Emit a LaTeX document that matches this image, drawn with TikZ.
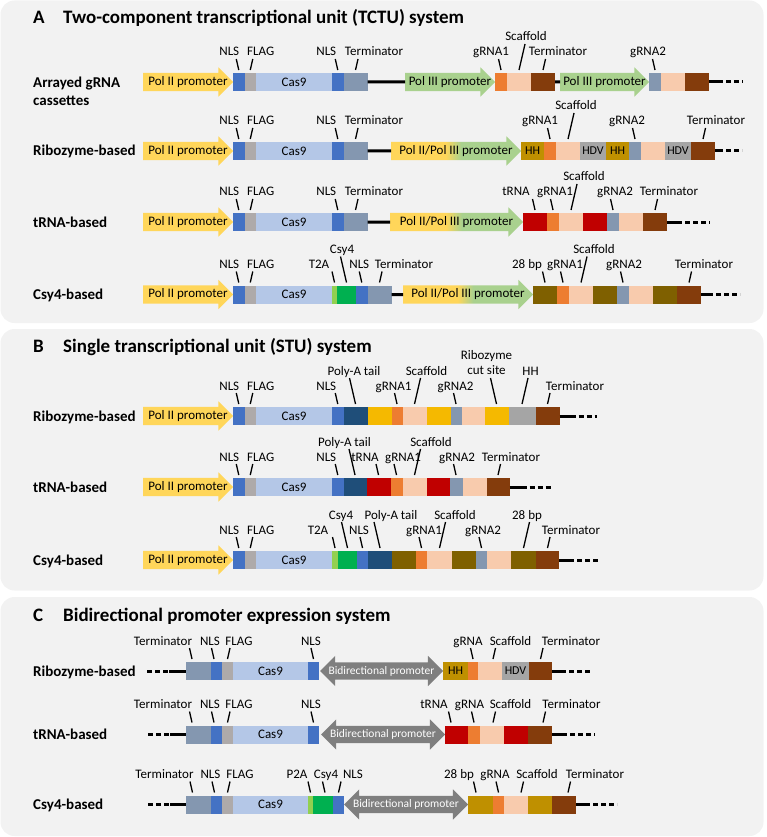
\documentclass[tikz,border=0pt]{standalone}
\usepackage{fontspec}
\setmainfont{Carlito}
\usetikzlibrary{positioning,calc,shapes.arrows}

\definecolor{panelgray}{RGB}{242,242,242}
\definecolor{poltwo}{RGB}{255,214,90}
\definecolor{polthree}{RGB}{169,209,142}
\definecolor{nlsblue}{RGB}{68,114,196}
\definecolor{flaggray}{RGB}{174,170,170}
\definecolor{casblue}{RGB}{180,199,231}
\definecolor{slate}{RGB}{132,151,176}
\definecolor{grnaorange}{RGB}{237,125,49}
\definecolor{peach}{RGB}{248,203,173}
\definecolor{rustbrown}{RGB}{132,60,12}
\definecolor{hhgold}{RGB}{191,144,0}
\definecolor{hdvgray}{RGB}{165,165,165}
\definecolor{trnared}{RGB}{192,0,0}
\definecolor{csygreen}{RGB}{0,176,80}
\definecolor{tagreen}{RGB}{146,208,80}
\definecolor{siteolive}{RGB}{127,96,0}
\definecolor{polyanavy}{RGB}{31,78,121}
\definecolor{cutamber}{RGB}{245,185,0}
\definecolor{bidigray}{RGB}{127,127,127}

\pgfdeclarehorizontalshading{polmix}{100bp}{color(0bp)=(poltwo); color(25bp)=(poltwo); color(46bp)=(poltwo); color(52bp)=(polthree); color(75bp)=(polthree); color(100bp)=(polthree)}

\newcommand{\lblfont}{\fontsize{13}{15}\selectfont}
\newcommand{\blockfont}{\fontsize{12}{14}\selectfont}
\newcommand{\bidifont}{\fontsize{11.5}{13}\selectfont}
\newcommand{\rowfont}{\fontsize{15}{18}\selectfont\bfseries}
\newcommand{\titlefont}{\fontsize{19}{22}\selectfont\bfseries}

\tikzset{
  panel/.style={fill=panelgray, rounded corners=14pt},
  ttl/.style={anchor=base west, inner sep=0pt, font=\titlefont},
  rowlbl/.style={anchor=base west, inner sep=0pt, font=\rowfont},
  lbl/.style={anchor=base, inner sep=0pt, align=center, font=\lblfont},
  pinline/.style={line width=1.3pt},
  dna/.style={line width=3pt},
  dnadash/.style={dna, dash pattern=on 5pt off 3pt},
  dnatail/.style={dna, dash pattern=on 5pt off 3pt, dash phase=5pt},
  seg/.style={anchor=west, minimum width=#1pt, minimum height=18pt,
    inner sep=0pt, outer sep=0pt, font=\lblfont},
  nlsbox/.style={seg=#1, fill=nlsblue}, nlsbox/.default=11.5,
  flagbox/.style={seg=#1, fill=flaggray}, flagbox/.default=11.5,
  casbox/.style={seg=#1, fill=casblue}, casbox/.default=76,
  ctermbox/.style={seg=#1, fill=slate}, ctermbox/.default=24,
  grnabox/.style={seg=#1, fill=grnaorange}, grnabox/.default=12,
  grnbbox/.style={seg=#1, fill=slate}, grnbbox/.default=12,
  scafbox/.style={seg=#1, fill=peach}, scafbox/.default=24,
  gtermbox/.style={seg=#1, fill=rustbrown}, gtermbox/.default=24,
  hhbox/.style={seg=#1, fill=hhgold, font=\blockfont}, hhbox/.default=24,
  hdvbox/.style={seg=#1, fill=hdvgray, font=\blockfont}, hdvbox/.default=26,
  trnabox/.style={seg=#1, fill=trnared}, trnabox/.default=24,
  csybox/.style={seg=#1, fill=csygreen}, csybox/.default=19,
  tabox/.style={seg=#1, fill=tagreen}, tabox/.default=5,
  sitebox/.style={seg=#1, fill=siteolive}, sitebox/.default=24,
  polyabox/.style={seg=#1, fill=polyanavy}, polyabox/.default=24,
  cutbox/.style={seg=#1, fill=cutamber}, cutbox/.default=24,
  promoter/.style={single arrow, single arrow head extend=5.5pt, anchor=west,
    minimum height=#1pt, inner xsep=0pt, inner ysep=3pt,
    text height=9pt, text depth=3pt, outer sep=0pt},
  pol two/.style={promoter=#1, fill=poltwo},
  pol three/.style={promoter=#1, fill=polthree},
  pol mix/.style={promoter=#1, shade, shading=polmix},
  bidi/.style={double arrow, double arrow head extend=6.5pt, anchor=west,
    minimum height=#1pt, inner xsep=0pt, inner ysep=3pt,
    text height=8.5pt, text depth=2.5pt, outer sep=0pt, fill=bidigray},
  ptext/.style={inner sep=0pt, font=\lblfont},
  btext/.style={inner sep=0pt, text=white, font=\bidifont},
}

% label with its slanted pin: [options]{foot}{slant}{length}{text}{text shift}
\newcounter{pinno}
\newcommand{\pin}[6][]{%
  \stepcounter{pinno}%
  \path (#2) ++(0pt,3pt) coordinate (f\thepinno) ++(#3pt,#4pt) coordinate (h\thepinno);
  \draw[pinline] (f\thepinno) -- (h\thepinno);
  \node[lbl, #1] (l\thepinno) at ([yshift=3pt, xshift=#6pt]h\thepinno) {#5};}

\begin{document}
\begin{tikzpicture}[x=1pt, y=-1pt, node distance=0pt]
  \useasboundingbox (0,0) rectangle (767,837);
  \fill[panel] (0.5,0.5) rectangle (763.5,323);
  \fill[panel] (0.5,329) rectangle (763.5,590.5);
  \fill[panel] (0.5,597) rectangle (763.5,836);

  % ---------------- A ----------------
  \node[ttl] (ta) at (33,24) {A};
  \node[ttl] (tta) at (63,24) {Two-component transcriptional unit (TCTU) system};

  % arrayed gRNA cassettes
  \node[rowlbl, anchor=west, align=left] (a1l) at (33,91) {Arrayed gRNA\\cassettes};
  \node[pol two=90] (a1p) at (143,82) {};
  \node[ptext] (a1pt) at ($(a1p.west)!0.5!(a1p.east)$) {Pol II promoter};
  \node[nlsbox, right=of a1p] (a1n1) {};
  \node[flagbox, right=of a1n1] (a1f) {};
  \node[casbox, right=of a1f] (a1c) {Cas9};
  \node[nlsbox, right=of a1c] (a1n2) {};
  \node[ctermbox, right=of a1n2] (a1t) {};
  \node[pol three=90] (a1q) at (405,82) {};
  \node[ptext] (a1qt) at ($(a1q.west)!0.5!(a1q.east)$) {Pol III promoter};
  \node[grnabox, right=of a1q] (a1g1) {};
  \node[scafbox, right=of a1g1] (a1s1) {};
  \node[gtermbox, right=of a1s1] (a1t1) {};
  \node[pol three=89] (a1r) at (560,82) {};
  \node[ptext] (a1rt) at ($(a1r.west)!0.5!(a1r.east)$) {Pol III promoter};
  \node[grnbbox, right=of a1r] (a1g2) {};
  \node[scafbox, right=of a1g2] (a1s2) {};
  \node[gtermbox, right=of a1s2] (a1t2) {};
  \draw[dna] (a1t) -- (a1q);
  \draw[dna] (a1t1) -- (a1r);
  \draw[dna] (a1t2.east) -- ++(14,0) coordinate (a1e);
  \draw[dnatail] (a1e) -- ++(20,0);
  \pin{a1n1.north}{-2.5}{11}{NLS}{-7}
  \pin{a1f.north}{2.5}{11}{FLAG}{8}
  \pin{a1n2.north}{-2.5}{11}{NLS}{-9}
  \pin{a1t.north}{2.5}{11}{Terminator}{16}
  \pin{a1g1.north}{-2.5}{11}{gRNA1}{-7.5}
  \pin{a1s1.north}{6}{26}{Scaffold}{1}
  \pin{a1t1.north}{2.5}{11}{Terminator}{12.5}
  \pin{a1g2.north}{-2.5}{11}{gRNA2}{-4.5}

  % ribozyme-based
  \node[rowlbl] (a2l) at (33,156) {Ribozyme-based};
  \node[pol two=90] (a2p) at (143,151) {};
  \node[ptext] (a2pt) at ($(a2p.west)!0.5!(a2p.east)$) {Pol II promoter};
  \node[nlsbox, right=of a2p] (a2n1) {};
  \node[flagbox, right=of a2n1] (a2f) {};
  \node[casbox, right=of a2f] (a2c) {Cas9};
  \node[nlsbox, right=of a2c] (a2n2) {};
  \node[ctermbox, right=of a2n2] (a2t) {};
  \node[pol mix=130] (a2q) at (391,151) {};
  \node[ptext] (a2qt) at ($(a2q.west)!0.5!(a2q.east)$) {Pol II/Pol III promoter};
  \node[hhbox=23, right=of a2q] (a2h1) {HH};
  \node[grnabox, right=of a2h1] (a2g1) {};
  \node[scafbox, right=of a2g1] (a2s1) {};
  \node[hdvbox, right=of a2s1] (a2d1) {HDV};
  \node[hhbox=23, right=of a2d1] (a2h2) {HH};
  \node[grnbbox, right=of a2h2] (a2g2) {};
  \node[scafbox, right=of a2g2] (a2s2) {};
  \node[hdvbox, right=of a2s2] (a2d2) {HDV};
  \node[gtermbox, right=of a2d2] (a2t1) {};
  \draw[dna] (a2t) -- (a2q);
  \draw[dna] (a2t1.east) -- ++(8,0) coordinate (a2e);
  \draw[dnatail] (a2e) -- ++(19,0);
  \pin{a2n1.north}{-2.5}{11}{NLS}{-7}
  \pin{a2f.north}{2.5}{11}{FLAG}{8}
  \pin{a2n2.north}{-2.5}{11}{NLS}{-9}
  \pin{a2t.north}{2.5}{11}{Terminator}{16}
  \pin{a2g1.north}{-2.5}{11}{gRNA1}{-7.5}
  \pin{a2s1.north}{6}{26}{Scaffold}{2}
  \pin{a2g2.north}{-2.5}{11}{gRNA2}{-5.5}
  \pin{a2t1.north}{2.5}{11}{Terminator}{10.5}

  % tRNA-based
  \node[rowlbl] (a3l) at (33,227) {tRNA-based};
  \node[pol two=90] (a3p) at (143,222) {};
  \node[ptext] (a3pt) at ($(a3p.west)!0.5!(a3p.east)$) {Pol II promoter};
  \node[nlsbox, right=of a3p] (a3n1) {};
  \node[flagbox, right=of a3n1] (a3f) {};
  \node[casbox, right=of a3f] (a3c) {Cas9};
  \node[nlsbox, right=of a3c] (a3n2) {};
  \node[ctermbox, right=of a3n2] (a3t) {};
  \node[pol mix=133] (a3q) at (390,222) {};
  \node[ptext] (a3qt) at ($(a3q.west)!0.5!(a3q.east)$) {Pol II/Pol III promoter};
  \node[trnabox, right=of a3q] (a3r1) {};
  \node[grnabox, right=of a3r1] (a3g1) {};
  \node[scafbox, right=of a3g1] (a3s1) {};
  \node[trnabox, right=of a3s1] (a3r2) {};
  \node[grnbbox, right=of a3r2] (a3g2) {};
  \node[scafbox, right=of a3g2] (a3s2) {};
  \node[gtermbox, right=of a3s2] (a3t1) {};
  \draw[dna] (a3t) -- (a3q);
  \draw[dna] (a3t1.east) -- ++(15,0) coordinate (a3e);
  \draw[dnatail] (a3e) -- ++(28,0);
  \pin{a3n1.north}{-2.5}{11}{NLS}{-7}
  \pin{a3f.north}{2.5}{11}{FLAG}{8}
  \pin{a3n2.north}{-2.5}{11}{NLS}{-9}
  \pin{a3t.north}{2.5}{11}{Terminator}{16}
  \pin{a3r1.north}{-2.5}{11}{tRNA}{-16.5}
  \pin{a3g1.north}{-2.5}{11}{gRNA1}{4.5}
  \pin{a3s1.north}{6}{26}{Scaffold}{7}
  \pin{a3g2.north}{-2.5}{11}{gRNA2}{4.5}
  \pin{a3t1.north}{2.5}{11}{Terminator}{11.5}

  % Csy4-based
  \node[rowlbl] (a4l) at (33,299.5) {Csy4-based};
  \node[pol two=90] (a4p) at (143,294.5) {};
  \node[ptext] (a4pt) at ($(a4p.west)!0.5!(a4p.east)$) {Pol II promoter};
  \node[nlsbox, right=of a4p] (a4n1) {};
  \node[flagbox, right=of a4n1] (a4f) {};
  \node[casbox, right=of a4f] (a4c) {Cas9};
  \node[tabox, right=of a4c] (a4x) {};
  \node[csybox, right=of a4x] (a4y) {};
  \node[nlsbox, right=of a4y] (a4n2) {};
  \node[ctermbox, right=of a4n2] (a4t) {};
  \node[pol mix=130] (a4q) at (403,294.5) {};
  \node[ptext] (a4qt) at ($(a4q.west)!0.5!(a4q.east)$) {Pol II/Pol III promoter};
  \node[sitebox, right=of a4q] (a4b1) {};
  \node[grnabox, right=of a4b1] (a4g1) {};
  \node[scafbox, right=of a4g1] (a4s1) {};
  \node[sitebox, right=of a4s1] (a4b2) {};
  \node[grnbbox, right=of a4b2] (a4g2) {};
  \node[scafbox, right=of a4g2] (a4s2) {};
  \node[sitebox, right=of a4s2] (a4b3) {};
  \node[gtermbox, right=of a4b3] (a4t1) {};
  \draw[dna] (a4t) -- (a4q);
  \draw[dna] (a4t1.east) -- ++(12,0) coordinate (a4e);
  \draw[dnatail] (a4e) -- ++(27,0);
  \pin{a4n1.north}{-2.5}{11}{NLS}{-7}
  \pin{a4f.north}{2.5}{11}{FLAG}{8}
  \pin{a4x.north}{-2.5}{11}{T2A}{-13}
  \pin{a4y.north}{-6}{26}{Csy4}{1.5}
  \pin{a4n2.north}{-2.5}{11}{NLS}{0}
  \pin{a4t.north}{2.5}{11}{Terminator}{22}
  \pin{a4b1.north}{-2.5}{11}{28 bp}{-15.5}
  \pin{a4g1.north}{-2.5}{11}{gRNA1}{4.5}
  \pin{a4s1.north}{6}{26}{Scaffold}{7}
  \pin{a4g2.north}{-2.5}{11}{gRNA2}{3.5}
  \pin{a4t1.north}{2.5}{11}{Terminator}{12.5}

  % ---------------- B ----------------
  \node[ttl] (tb) at (33,352) {B};
  \node[ttl] (ttb) at (63,352) {Single transcriptional unit (STU) system};

  % ribozyme-based
  \node[rowlbl] (b1l) at (33,421) {Ribozyme-based};
  \node[pol two=90] (b1p) at (143,416) {};
  \node[ptext] (b1pt) at ($(b1p.west)!0.5!(b1p.east)$) {Pol II promoter};
  \node[nlsbox, right=of b1p] (b1n1) {};
  \node[flagbox, right=of b1n1] (b1f) {};
  \node[casbox, right=of b1f] (b1c) {Cas9};
  \node[nlsbox, right=of b1c] (b1n2) {};
  \node[polyabox, right=of b1n2] (b1a) {};
  \node[cutbox, right=of b1a] (b1k1) {};
  \node[grnabox=11, right=of b1k1] (b1g1) {};
  \node[scafbox, right=of b1g1] (b1s1) {};
  \node[cutbox, right=of b1s1] (b1k2) {};
  \node[grnbbox=11, right=of b1k2] (b1g2) {};
  \node[scafbox=23, right=of b1g2] (b1s2) {};
  \node[cutbox, right=of b1s2] (b1k3) {};
  \node[hdvbox=27, right=of b1k3] (b1h) {};
  \node[gtermbox, right=of b1h] (b1t1) {};
  \draw[dna] (b1t1.east) -- ++(16,0) coordinate (b1e);
  \draw[dnatail] (b1e) -- ++(21,0);
  \pin{b1n1.north}{-2.5}{11}{NLS}{-7}
  \pin{b1f.north}{2.5}{11}{FLAG}{8}
  \pin{b1n2.north}{-2.5}{11}{NLS}{-9}
  \pin{b1a.north}{-6}{26}{Poly-A tail}{4.5}
  \pin{b1g1.north}{-2.5}{11}{gRNA1}{-1}
  \pin{b1s1.north}{6}{26}{Scaffold}{6}
  \pin{b1g2.north}{-2.5}{11}{gRNA2}{2}
  \pin[anchor=south]{b1k3.north}{-6}{26}{Ribozyme\\cut site}{-4}
  \pin{b1h.north}{6}{26}{HH}{2.5}
  \pin{b1t1.north}{2.5}{11}{Terminator}{25}

  % tRNA-based
  \node[rowlbl] (b2l) at (33,492) {tRNA-based};
  \node[pol two=90] (b2p) at (143,487) {};
  \node[ptext] (b2pt) at ($(b2p.west)!0.5!(b2p.east)$) {Pol II promoter};
  \node[nlsbox, right=of b2p] (b2n1) {};
  \node[flagbox, right=of b2n1] (b2f) {};
  \node[casbox, right=of b2f] (b2c) {Cas9};
  \node[nlsbox, right=of b2c] (b2n2) {};
  \node[polyabox=23, right=of b2n2] (b2a) {};
  \node[trnabox, right=of b2a] (b2r1) {};
  \node[grnabox, right=of b2r1] (b2g1) {};
  \node[scafbox, right=of b2g1] (b2s1) {};
  \node[trnabox=23, right=of b2s1] (b2r2) {};
  \node[grnbbox=13, right=of b2r2] (b2g2) {};
  \node[scafbox, right=of b2g2] (b2s2) {};
  \node[gtermbox=23, right=of b2s2] (b2t1) {};
  \draw[dna] (b2t1.east) -- ++(17,0) coordinate (b2e);
  \draw[dnatail] (b2e) -- ++(25,0);
  \pin{b2n1.north}{-2.5}{11}{NLS}{-7}
  \pin{b2f.north}{2.5}{11}{FLAG}{8}
  \pin{b2n2.north}{-2.5}{11}{NLS}{-9}
  \pin{b2a.north}{-6}{26}{Poly-A tail}{-4.5}
  \pin{b2r1.north}{-2.5}{11}{tRNA}{-11}
  \pin{b2g1.north}{-2.5}{11}{gRNA1}{9}
  \pin{b2s1.north}{6}{26}{Scaffold}{10.5}
  \pin{b2g2.north}{-2.5}{11}{gRNA2}{3.5}
  \pin{b2t1.north}{2.5}{11}{Terminator}{10.5}

  % Csy4-based
  \node[rowlbl] (b3l) at (33,565) {Csy4-based};
  \node[pol two=90] (b3p) at (143,560) {};
  \node[ptext] (b3pt) at ($(b3p.west)!0.5!(b3p.east)$) {Pol II promoter};
  \node[nlsbox, right=of b3p] (b3n1) {};
  \node[flagbox, right=of b3n1] (b3f) {};
  \node[casbox, right=of b3f] (b3c) {Cas9};
  \node[tabox=6, right=of b3c] (b3x) {};
  \node[csybox, right=of b3x] (b3y) {};
  \node[nlsbox=11, right=of b3y] (b3n2) {};
  \node[polyabox, right=of b3n2] (b3a) {};
  \node[sitebox, right=of b3a] (b3b1) {};
  \node[grnabox=11, right=of b3b1] (b3g1) {};
  \node[scafbox=25, right=of b3g1] (b3s1) {};
  \node[sitebox, right=of b3s1] (b3b2) {};
  \node[grnbbox=11, right=of b3b2] (b3g2) {};
  \node[scafbox, right=of b3g2] (b3s2) {};
  \node[sitebox=25, right=of b3s2] (b3b3) {};
  \node[gtermbox=23, right=of b3b3] (b3t1) {};
  \draw[dna] (b3t1.east) -- ++(15,0) coordinate (b3e);
  \draw[dnatail] (b3e) -- ++(24,0);
  \pin{b3n1.north}{-2.5}{11}{NLS}{-7}
  \pin{b3f.north}{2.5}{11}{FLAG}{8}
  \pin{b3x.north}{-2.5}{11}{T2A}{-14.5}
  \pin{b3y.north}{-6}{26}{Csy4}{-0.5}
  \pin{b3n2.north}{-2.5}{11}{NLS}{-1}
  \pin{b3a.north}{-6}{26}{Poly-A tail}{17}
  \pin{b3g1.north}{-2.5}{11}{gRNA1}{5}
  \pin{b3s1.north}{6}{26}{Scaffold}{9.5}
  \pin{b3g2.north}{-2.5}{11}{gRNA2}{4}
  \pin{b3b3.north}{6}{26}{28 bp}{-2.5}
  \pin{b3t1.north}{2.5}{11}{Terminator}{21}

  % ---------------- C ----------------
  \node[ttl] (tc) at (33,621) {C};
  \node[ttl] (ttc) at (63,621) {Bidirectional promoter expression system};

  % ribozyme-based
  \node[rowlbl] (c1l) at (33,676) {Ribozyme-based};
  \coordinate (c1o) at (147,671);
  \node[ctermbox=25] (c1t) at (186,671) {};
  \node[nlsbox=11, right=of c1t] (c1n1) {};
  \node[flagbox=11, right=of c1n1] (c1f) {};
  \node[casbox=75, right=of c1f] (c1c) {Cas9};
  \node[nlsbox=11, right=of c1c] (c1n2) {};
  \node[bidi=123] (c1b) at (320,671) {};
  \node[btext] (c1bt) at ($(c1b.west)!0.5!(c1b.east)$) {Bidirectional promoter};
  \node[hhbox=25, right=of c1b] (c1h) {HH};
  \node[grnabox=10, right=of c1h] (c1g) {};
  \node[scafbox, right=of c1g] (c1sc) {};
  \node[hdvbox=27, right=of c1sc] (c1d) {HDV};
  \node[gtermbox=23, right=of c1d] (c1t1) {};
  \draw[dnadash] (c1o) -- ++(22,0) coordinate (c1m);
  \draw[dna] (c1m) -- (c1t);
  \draw[dna] (c1t1.east) -- ++(14,0) coordinate (c1e);
  \draw[dnatail] (c1e) -- ++(25,0);
  \pin{[xshift=-6.5pt]c1t.north}{-2.5}{11}{Terminator}{-26.5}
  \pin{[xshift=-2.5pt]c1n1.north}{-2.5}{11}{NLS}{-1.5}
  \pin{c1f.north}{2.5}{11}{FLAG}{9}
  \pin{c1n2.north}{-2.5}{11}{NLS}{0}
  \pin{c1g.north}{-2.5}{11}{gRNA}{-2.5}
  \pin{[xshift=3pt]c1sc.north}{2.5}{11}{Scaffold}{15}
  \pin{c1t1.north}{2.5}{11}{Terminator}{28}

  % tRNA-based
  \node[rowlbl] (c2l) at (33,739.5) {tRNA-based};
  \coordinate (c2o) at (148,734.5);
  \node[ctermbox=25] (c2t) at (186,734.5) {};
  \node[nlsbox=11, right=of c2t] (c2n1) {};
  \node[flagbox=11, right=of c2n1] (c2f) {};
  \node[casbox=75, right=of c2f] (c2c) {Cas9};
  \node[nlsbox=11, right=of c2c] (c2n2) {};
  \node[bidi=124] (c2b) at (321,734.5) {};
  \node[btext] (c2bt) at ($(c2b.west)!0.5!(c2b.east)$) {Bidirectional promoter};
  \node[trnabox=23, right=of c2b] (c2r1) {};
  \node[grnabox, right=of c2r1] (c2g) {};
  \node[scafbox, right=of c2g] (c2sc) {};
  \node[trnabox, right=of c2sc] (c2r2) {};
  \node[gtermbox, right=of c2r2] (c2t1) {};
  \draw[dnadash] (c2o) -- ++(22,0) coordinate (c2m);
  \draw[dna] (c2m) -- (c2t);
  \draw[dna] (c2t1.east) -- ++(15,0) coordinate (c2e);
  \draw[dnatail] (c2e) -- ++(28,0);
  \pin{[xshift=-6.5pt]c2t.north}{-2.5}{11}{Terminator}{-26.5}
  \pin{[xshift=-2.5pt]c2n1.north}{-2.5}{11}{NLS}{-1.5}
  \pin{c2f.north}{2.5}{11}{FLAG}{9}
  \pin{c2n2.north}{-2.5}{11}{NLS}{0}
  \pin{[xshift=-5.5pt]c2r1.north}{-2.5}{11}{tRNA}{-14.5}
  \pin{c2g.north}{-2.5}{11}{gRNA}{-2}
  \pin{[xshift=1pt]c2sc.north}{2.5}{11}{Scaffold}{15}
  \pin{[xshift=3pt]c2t1.north}{2.5}{11}{Terminator}{26}

  % Csy4-based
  \node[rowlbl] (c3l) at (33,809.5) {Csy4-based};
  \coordinate (c3o) at (148,804.5);
  \node[ctermbox=25] (c3t) at (186,804.5) {};
  \node[nlsbox=11, right=of c3t] (c3n1) {};
  \node[flagbox=11, right=of c3n1] (c3f) {};
  \node[casbox=75, right=of c3f] (c3c) {Cas9};
  \node[tabox, right=of c3c] (c3x) {};
  \node[csybox=20, right=of c3x] (c3y) {};
  \node[nlsbox=11, right=of c3y] (c3n2) {};
  \node[bidi=124] (c3b) at (344,804.5) {};
  \node[btext] (c3bt) at ($(c3b.west)!0.5!(c3b.east)$) {Bidirectional promoter};
  \node[hhbox=25, right=of c3b] (c3b1) {};
  \node[grnabox=11, right=of c3b1] (c3g) {};
  \node[scafbox, right=of c3g] (c3sc) {};
  \node[hhbox, right=of c3sc] (c3b2) {};
  \node[gtermbox, right=of c3b2] (c3t1) {};
  \draw[dnadash] (c3o) -- ++(22,0) coordinate (c3m);
  \draw[dna] (c3m) -- (c3t);
  \draw[dna] (c3t1.east) -- ++(14,0) coordinate (c3e);
  \draw[dnatail] (c3e) -- ++(27,0);
  \pin{[xshift=-6pt]c3t.north}{-2.5}{11}{Terminator}{-25.5}
  \pin{[xshift=-2pt]c3n1.north}{-2.5}{11}{NLS}{-1.5}
  \pin{c3f.north}{2.5}{11}{FLAG}{10}
  \pin{c3x.north}{-2.5}{11}{P2A}{-11}
  \pin{[xshift=2pt]c3y.north}{-2.5}{11}{Csy4}{3.5}
  \pin{c3n2.north}{2.5}{11}{NLS}{12}
  \pin{[xshift=-4.5pt]c3b1.north}{-2.5}{11}{28 bp}{-14.5}
  \pin{c3g.north}{-2.5}{11}{gRNA}{-1}
  \pin{[xshift=5pt]c3sc.north}{2.5}{11}{Scaffold}{13.5}
  \pin{[xshift=4pt]c3t1.north}{2.5}{11}{Terminator}{24.5}
\end{tikzpicture}
\end{document}
